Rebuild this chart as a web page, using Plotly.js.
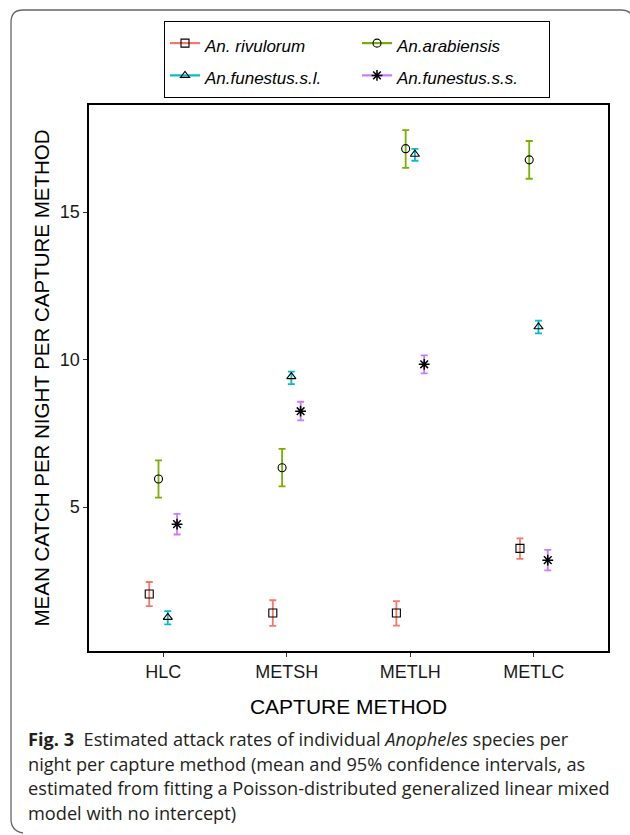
<!DOCTYPE html>
<html>
<head>
<meta charset="utf-8">
<script src="https://cdn.plot.ly/plotly-3.0.1.min.js"></script>
<style>
  html, body { margin: 0; padding: 0; background: #ffffff; }
  #chart { width: 630px; height: 835px; }
</style>
</head>
<body>
<div id="chart"></div>
<script>
// ---- data ----
const categories = ['HLC', 'METSH', 'METLH', 'METLC'];
const speciesNames = ['An. rivulorum', 'An.arabiensis', 'An.funestus.s.l.', 'An.funestus.s.s.'];

const rivulorumMean = [2.05, 1.41, 1.41, 3.60];
const rivulorumLow  = [1.64, 0.97, 0.98, 3.24];
const rivulorumHigh = [2.46, 1.84, 1.81, 3.94];

const arabiensisMean = [5.95, 6.33, 17.15, 16.77];
const arabiensisLow  = [5.32, 5.70, 16.50, 16.13];
const arabiensisHigh = [6.58, 6.97, 17.78, 17.41];

const funestusSLMean = [1.26, 9.42, 16.96, 11.11];
const funestusSLLow  = [1.02, 9.17, 16.74, 10.89];
const funestusSLHigh = [1.47, 9.59, 17.14, 11.32];

const funestusSSMean = [4.42, 8.25, 9.84, 3.20];
const funestusSSLow  = [4.07, 7.94, 9.53, 2.85];
const funestusSSHigh = [4.77, 8.57, 10.14, 3.55];

const yTickValues = [5, 10, 15];

// ---- styling ----
const colors = ['#F8766D', '#7CAE00', '#00BFC4', '#C77CFF'];
const symbols = ['square-open', 'circle-open', 'triangle-up-open', 'asterisk-open'];
const series = [
  {mean: rivulorumMean, low: rivulorumLow, high: rivulorumHigh},
  {mean: arabiensisMean, low: arabiensisLow, high: arabiensisHigh},
  {mean: funestusSLMean, low: funestusSLLow, high: funestusSLHigh},
  {mean: funestusSSMean, low: funestusSSLow, high: funestusSSHigh}
];

const W = 630, H = 835;
const M = {l: 89, r: 22, t: 105, b: 184};
const PW = W - M.l - M.r, PH = H - M.t - M.b;
const px2x = p => (p - M.l) / PW;
const px2y = p => (H - M.b - p) / PH;

const traces = [];
series.forEach((s, i) => {
  traces.push({
    type: 'scatter',
    mode: 'markers',
    x: categories,
    y: s.mean,
    name: speciesNames[i],
    showlegend: false,
    marker: {
      symbol: symbols[i],
      size: i === 3 ? 9 : 8,
      color: '#000000',
      line: {color: '#000000', width: i === 3 ? 1.5 : 1.1}
    },
    error_y: {
      type: 'data',
      symmetric: false,
      array: s.high.map((h, k) => h - s.mean[k]),
      arrayminus: s.low.map((l, k) => s.mean[k] - l),
      color: colors[i],
      thickness: 1.8,
      width: 3.5
    },
    hoverinfo: 'x+y'
  });
});
// legend keys (colored line through black marker)
series.forEach((s, i) => {
  traces.push({
    type: 'scatter',
    mode: 'lines+markers',
    x: [null],
    y: [null],
    xaxis: 'x2',
    yaxis: 'y2',
    name: '<span style="font-size:17px">' + speciesNames[i] + '</span>',
    line: {color: colors[i], width: 2.2},
    marker: {
      symbol: symbols[i],
      size: i === 3 ? 9 : 8,
      color: '#000000',
      line: {color: '#000000', width: i === 3 ? 1.5 : 1.1}
    }
  });
});

// caption lines
const capFont = {family: 'Open Sans, Noto Sans, sans-serif', size: 18.2, color: '#231f20'};
const capLines = [
  '<b>Fig. 3</b>  Estimated attack rates of individual <i>Anopheles</i> species per',
  'night per capture method (mean and 95% confidence intervals, as',
  'estimated from fitting a Poisson-distributed generalized linear mixed',
  'model with no intercept)'
];
const capCenters = [739, 763.5, 788, 812.5];
const annotations = capLines.map((t, k) => ({
  xref: 'paper', yref: 'paper',
  x: px2x(26), y: px2y(capCenters[k]),
  xanchor: 'left', yanchor: 'middle',
  text: t, showarrow: false, align: 'left',
  font: capFont
}));

// outer rounded frame (journal figure box)
const fx0 = 11, fy0 = 10, fx1 = 633, fy1 = 831, rad = 12;
const framePath =
  'M ' + px2x(fx0 + rad) + ',' + px2y(fy1 + 2) +
  ' Q ' + px2x(fx0) + ',' + px2y(fy1) + ' ' + px2x(fx0) + ',' + px2y(fy1 - rad) +
  ' L ' + px2x(fx0) + ',' + px2y(fy0 + rad) +
  ' Q ' + px2x(fx0) + ',' + px2y(fy0) + ' ' + px2x(fx0 + rad) + ',' + px2y(fy0) +
  ' L ' + px2x(fx1 - rad) + ',' + px2y(fy0) +
  ' Q ' + px2x(fx1) + ',' + px2y(fy0) + ' ' + px2x(fx1) + ',' + px2y(fy0 + rad) +
  ' L ' + px2x(fx1) + ',' + px2y(fy1 - rad);

const layout = {
  width: W, height: H,
  margin: M,
  paper_bgcolor: '#ffffff',
  plot_bgcolor: '#ffffff',
  scattermode: 'group',
  scattergap: 0.7,
  showlegend: true,
  font: {family: 'Liberation Sans, Arial, sans-serif', color: '#1a1a1a'},
  xaxis: {
    type: 'category',
    range: [-0.6, 3.6],
    showline: true, linecolor: '#000000', linewidth: 1.6, mirror: true,
    ticks: 'outside', ticklen: 4, tickcolor: '#333333', tickwidth: 1,
    showgrid: false, zeroline: false,
    tickfont: {size: 18, color: '#1a1a1a'},
    title: {text: 'CAPTURE METHOD', font: {size: 21, color: '#000000'}, standoff: 18}
  },
  yaxis: {
    range: [0.12, 18.63],
    tickvals: yTickValues,
    showline: true, linecolor: '#000000', linewidth: 1.6, mirror: true,
    ticks: 'outside', ticklen: 4, tickcolor: '#333333', tickwidth: 1,
    showgrid: false, zeroline: false,
    tickfont: {size: 18, color: '#1a1a1a'},
    title: {text: 'MEAN CATCH PER NIGHT PER CAPTURE METHOD', font: {size: 20.5, color: '#000000'}, standoff: 4}
  },
  xaxis2: {overlaying: 'x', visible: false, range: [0, 1]},
  yaxis2: {overlaying: 'y', visible: false, range: [0, 1]},
  legend: {
    orientation: 'h',
    x: px2x(164), y: px2y(21),
    xanchor: 'left', yanchor: 'top',
    bgcolor: '#ffffff',
    bordercolor: '#000000', borderwidth: 1,
    font: {family: 'Liberation Sans, Arial, sans-serif', size: 22.5, color: '#000000', style: 'italic'},
    entrywidth: 147,
    entrywidthmode: 'pixels',
    itemclick: false, itemdoubleclick: false
  },
  annotations: annotations,
  shapes: [
    {type: 'path', xref: 'paper', yref: 'paper', path: framePath, line: {color: '#666666', width: 1.3}}
  ]
};

Plotly.newPlot('chart', traces, layout, {displayModeBar: false, staticPlot: true});
</script>
</body>
</html>
